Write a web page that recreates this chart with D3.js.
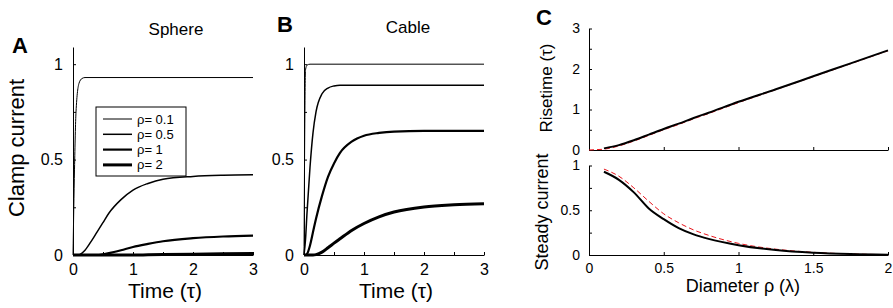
<!DOCTYPE html>
<head>
  <meta charset="utf-8">
  <script src="https://d3js.org/d3.v7.min.js"></script>
  <style>
    body { margin: 0; background: #fff; }
    svg text { font-family: "Liberation Sans", Arial, sans-serif; fill: #000; }
    .line { fill: none; }
  </style>
</head>

<body>
  <script>

    // time grid shared by panels A and B (in units of tau)
    var timeGrid = [0, 0.025, 0.05, 0.1, 0.15, 0.2, 0.3, 0.4, 0.5, 0.6, 0.8, 1, 1.25, 1.5, 2, 2.5, 3];

    // A: sphere clamp current
    var sphere01 = [0, 0.45, 0.75, 0.9, 0.925, 0.93, 0.93, 0.93, 0.93, 0.93, 0.93, 0.93, 0.93, 0.93, 0.93, 0.93, 0.93];
    var sphere05 = [0, 0, 0, 0, 0.01, 0.025, 0.07, 0.12, 0.17, 0.22, 0.29, 0.34, 0.375, 0.397, 0.412, 0.418, 0.42];
    var sphere1  = [0, 0, 0, 0, 0, 0, 0, 0, 0.004, 0.01, 0.025, 0.042, 0.058, 0.072, 0.088, 0.097, 0.102];
    var sphere2  = [0, 0, 0, 0, 0, 0, 0, 0, 0, 0, 0, 0, 0.001, 0.002, 0.004, 0.006, 0.008];

    // B: cable clamp current
    var cable01 = [0, 0.97, 0.995, 1, 1, 1, 1, 1, 1, 1, 1, 1, 1, 1, 1, 1, 1];
    var cable05 = [0, 0.08, 0.22, 0.46, 0.64, 0.75, 0.845, 0.875, 0.886, 0.89, 0.89, 0.89, 0.89, 0.89, 0.89, 0.89, 0.89];
    var cable1  = [0, 0, 0.005, 0.05, 0.12, 0.19, 0.31, 0.41, 0.48, 0.535, 0.595, 0.625, 0.64, 0.647, 0.65, 0.65, 0.65];
    var cable2  = [0, 0, 0, 0, 0, 0.002, 0.015, 0.038, 0.062, 0.085, 0.13, 0.165, 0.2, 0.225, 0.252, 0.263, 0.268];

    var legendLabels = ["\u03c1= 0.1", "\u03c1= 0.5", "\u03c1= 1", "\u03c1= 2"];
    var lineWidths = [1, 1.5, 2.2, 3];

    // C: risetime and steady current against diameter
    var diam = [0.1, 0.2, 0.3, 0.4, 0.5, 0.6, 0.7, 0.8, 1, 1.25, 1.5, 1.75, 2];
    var diamRed = [0, 0.05, 0.1, 0.2, 0.3, 0.4, 0.5, 0.6, 0.7, 0.8, 1, 1.25, 1.5, 1.75, 2];
    var riseBlack = [0.04, 0.12, 0.24, 0.38, 0.52, 0.65, 0.79, 0.92, 1.19, 1.5, 1.82, 2.14, 2.46];
    var riseRed = [0, 0.01, 0.02, 0.1, 0.22, 0.36, 0.5, 0.63, 0.77, 0.9, 1.17, 1.49, 1.81, 2.13, 2.45];
    var steadyBlack = [0.93, 0.84, 0.7, 0.52, 0.4, 0.3, 0.23, 0.18, 0.11, 0.055, 0.025, 0.01, 0.004];
    var steadyRed = [0.96, 0.88, 0.75, 0.6, 0.46, 0.36, 0.28, 0.22, 0.13, 0.065, 0.03, 0.012, 0.004];

    var svg = d3.select("body").append("svg")
      .attr("width", 893)
      .attr("height", 308);

    function pairs(xs, ys) {
      return xs.map(function(x, i) { return [x, ys[i]]; });
    }

    function drawAxes(x, y, xTicks, yTicks, xLabelled, yLabelled, font, xPad, yPad) {
      var fmt = function(list) {
        return function(d) { return list.indexOf(d) >= 0 ? d3.format("")(d) : ""; };
      };
      var gx = svg.append("g")
        .attr("transform", "translate(0," + y.range()[0] + ")")
        .call(d3.axisBottom(x).tickValues(xTicks).tickSizeInner(-3).tickSizeOuter(0)
          .tickPadding(xPad).tickFormat(xLabelled ? fmt(xLabelled) : function() { return ""; }));
      var gy = svg.append("g")
        .attr("transform", "translate(" + x.range()[0] + ",0)")
        .call(d3.axisLeft(y).tickValues(yTicks).tickSizeInner(-3).tickSizeOuter(0)
          .tickPadding(yPad).tickFormat(fmt(yLabelled)));
      [gx, gy].forEach(function(g) {
        g.attr("font-size", null).attr("font-family", null);
        g.selectAll("text").style("font-size", font + "px");
        g.selectAll("path, line").attr("stroke", "#000").attr("stroke-width", 1);
      });
    }

    // ---------- panel A and B ----------
    function timePanel(x0, series) {
      var x = d3.scaleLinear().domain([0, 3]).range([x0, x0 + 180]);
      var y = d3.scaleLinear().domain([0, 1.09]).range([255, 47]);
      drawAxes(x, y, d3.range(0, 3.01, 0.5), [0, 0.25, 0.5, 0.75, 1], [0, 1, 2, 3], [0, 0.5, 1], 16, 9, 10);

      var line = d3.line()
        .curve(d3.curveMonotoneX)
        .x(function(d) { return x(d[0]); })
        .y(function(d) { return y(d[1]); });

      series.forEach(function(s, i) {
        svg.append("path")
          .datum(pairs(timeGrid, s))
          .attr("class", "line")
          .style("stroke", "#000")
          .attr("stroke-width", lineWidths[i])
          .attr("d", line);
      });

      svg.append("text")
        .text("Time (\u03c4)")
        .attr("x", x(1.5) + 2)
        .attr("y", 298)
        .attr("text-anchor", "middle")
        .style("font-size", "21px");
    }

    timePanel(73, [sphere01, sphere05, sphere1, sphere2]);
    timePanel(304, [cable01, cable05, cable1, cable2]);

    svg.append("text").text("Sphere").attr("x", 176).attr("y", 35)
      .attr("text-anchor", "middle").style("font-size", "17px");
    svg.append("text").text("Cable").attr("x", 408).attr("y", 33)
      .attr("text-anchor", "middle").style("font-size", "17px");

    svg.append("text").text("A").attr("x", 12).attr("y", 53)
      .style("font-size", "22px").style("font-weight", "bold");
    svg.append("text").text("B").attr("x", 277).attr("y", 32)
      .style("font-size", "22px").style("font-weight", "bold");
    svg.append("text").text("C").attr("x", 536).attr("y", 25)
      .style("font-size", "22px").style("font-weight", "bold");

    svg.append("text")
      .text("Clamp current")
      .attr("transform", "translate(24,148) rotate(-90)")
      .attr("text-anchor", "middle")
      .style("font-size", "22px");

    // legend
    var legend = svg.append("g").attr("transform", "translate(96,107)");
    legend.append("rect")
      .attr("width", 90).attr("height", 69)
      .attr("fill", "#fff").attr("stroke", "#000").attr("stroke-width", 1);
    legendLabels.forEach(function(lab, i) {
      var yy = 12 + i * 15.3;
      legend.append("line")
        .attr("x1", 7).attr("x2", 36).attr("y1", yy).attr("y2", yy)
        .attr("stroke", "#000").attr("stroke-width", lineWidths[i]);
      legend.append("text")
        .text(lab).attr("x", 41).attr("y", yy + 4.5)
        .style("font-size", "13px");
    });

    // ---------- panel C ----------
    var xc = d3.scaleLinear().domain([0, 2]).range([589, 888]);
    var yTop = d3.scaleLinear().domain([0, 3]).range([150, 28.5]);
    var yBot = d3.scaleLinear().domain([0, 1]).range([255, 165.5]);

    drawAxes(xc, yTop, [0, 0.5, 1, 1.5, 2], [0, 0.5, 1, 1.5, 2, 2.5, 3], null, [0, 1, 2, 3], 14, 9, 9);
    drawAxes(xc, yBot, [0, 0.5, 1, 1.5, 2], [0, 0.25, 0.5, 0.75, 1], [0, 0.5, 1, 1.5, 2], [0, 0.5, 1], 14, 8, 9);

    function cLine(y) {
      return d3.line()
        .curve(d3.curveMonotoneX)
        .x(function(d) { return xc(d[0]); })
        .y(function(d) { return y(d[1]); });
    }

    function redLine(xs, ys, y) {
      svg.append("path").datum(pairs(xs, ys))
        .attr("class", "line").style("stroke", "#e8141b").attr("stroke-width", 1)
        .attr("stroke-dasharray", "5,3").attr("d", cLine(y));
    }
    function blackLine(xs, ys, y) {
      svg.append("path").datum(pairs(xs, ys))
        .attr("class", "line").style("stroke", "#000").attr("stroke-width", 2).attr("d", cLine(y));
    }

    redLine(diamRed, riseRed, yTop);
    blackLine(diam, riseBlack, yTop);
    redLine(diam, steadyRed, yBot);
    blackLine(diam, steadyBlack, yBot);

    svg.append("text")
      .text("Risetime (\u03c4)")
      .attr("transform", "translate(552,88) rotate(-90)")
      .attr("text-anchor", "middle")
      .style("font-size", "17px");
    svg.append("text")
      .text("Steady current")
      .attr("transform", "translate(548,212) rotate(-90)")
      .attr("text-anchor", "middle")
      .style("font-size", "18px");
    svg.append("text")
      .text("Diameter \u03c1 (\u03bb)")
      .attr("x", xc(1.03))
      .attr("y", 292)
      .attr("text-anchor", "middle")
      .style("font-size", "18px");

  </script>
</body>
